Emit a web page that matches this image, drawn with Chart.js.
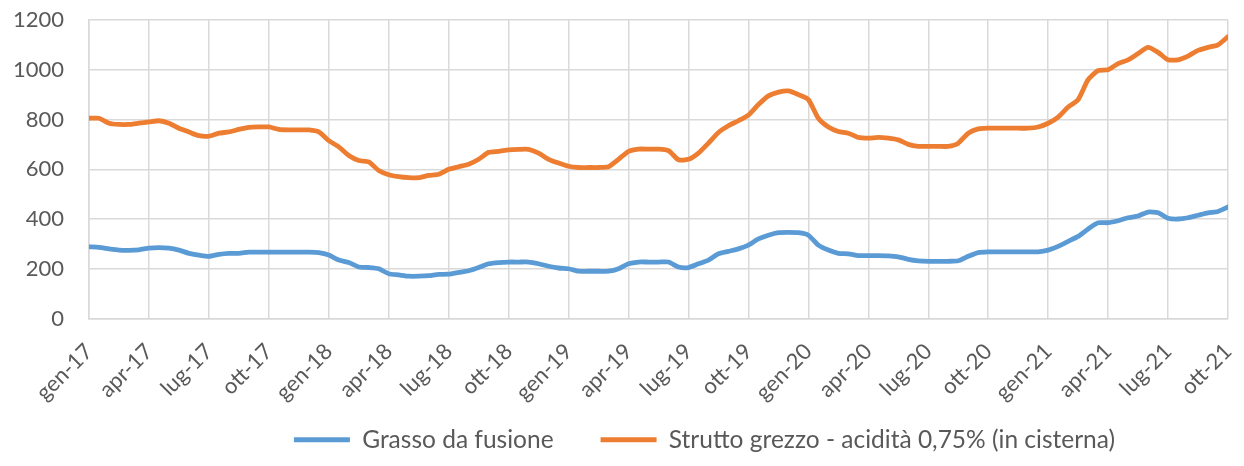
<!DOCTYPE html>
<html>
<head>
<meta charset="utf-8">
<script src="https://cdn.jsdelivr.net/npm/chart.js@4/dist/chart.umd.min.js"></script>
<style>
  html, body { margin: 0; padding: 0; background: #fff; }
  #wrap { width: 1244px; height: 466px; position: relative; }
</style>
</head>
<body>
<div id="wrap"><canvas id="prezziChart"></canvas></div>
<script>
// Etichette trimestrali dell'asse x (una ogni 3 mesi)
const tickLabels = ['gen-17', 'apr-17', 'lug-17', 'ott-17', 'gen-18', 'apr-18', 'lug-18', 'ott-18',
  'gen-19', 'apr-19', 'lug-19', 'ott-19', 'gen-20', 'apr-20', 'lug-20', 'ott-20',
  'gen-21', 'apr-21', 'lug-21', 'ott-21'];

// Rilevazioni ogni mezzo mese, da gen-17 (0) a ott-21 (57)
const mesi = [];
for (let i = 0; i <= 114; i++) mesi.push(i / 2);

// Grasso da fusione (€/t)
const grasso = [
  288, 286, 280, 275, 274, 276, 283, 285, 283, 275,
  262, 255, 250, 258, 262, 262, 267, 267, 267, 267,
  267, 267, 267, 265, 255, 235, 225, 207, 205, 200,
  180, 175, 170, 170, 172, 177, 178, 185, 192, 205,
  220, 225, 227, 227, 227, 220, 210, 203, 200, 190,
  190, 190, 190, 200, 220, 227, 227, 227, 227, 207,
  205, 220, 235, 260, 270, 280, 295, 320, 335, 345,
  346, 345, 335, 295, 275, 262, 260, 253, 253, 253,
  252, 248, 238, 232, 230, 230, 230, 232, 250, 265,
  268, 268, 268, 268, 268, 268, 275, 290, 310, 330,
  360, 385, 385, 393, 405, 412, 428, 425, 403, 400,
  405, 415, 425, 430, 448
];

// Strutto grezzo - acidità 0,75% (in cisterna) (€/t)
const strutto = [
  805, 805, 785, 780, 780, 785, 790, 795, 785, 765,
  750, 735, 733, 745, 750, 760, 768, 770, 770, 760,
  758, 758, 758, 750, 715, 690, 655, 635, 630, 595,
  578, 570, 566, 566, 575, 580, 600, 610, 620, 640,
  668, 672, 678, 680, 680, 665, 640, 625, 612, 607,
  607, 607, 610, 640, 672, 681, 681, 681, 675, 638,
  640, 665, 705, 748, 775, 795, 818, 860, 895, 910,
  915, 900, 880, 805, 770, 752, 745, 728, 725, 728,
  725, 718, 700, 692, 692, 692, 692, 705, 745, 762,
  765, 765, 765, 765, 765, 770, 785, 810, 850, 880,
  960, 997, 1000, 1025, 1040, 1065, 1090, 1070, 1040, 1040,
  1055, 1078, 1090, 1100, 1133
];

const colori = {
  grasso: '#5b9bd5',
  strutto: '#ed7d31',
  griglia: '#d9d9d9',
  testo: '#595959'
};

const fontAssi = { family: "'Lato', 'Open Sans', sans-serif", size: 22 };
const fontLegenda = { family: "'Lato', 'Open Sans', sans-serif", size: 24.5 };

function punti(valori) {
  return valori.map((v, i) => ({ x: mesi[i], y: v }));
}

// Sposta la legenda (a destra e in alto), come nell'originale
const spostaLegenda = {
  id: 'spostaLegenda',
  afterLayout(chart) {
    const legenda = chart.legend;
    if (!legenda) return;
    legenda.left += 46;
    legenda.right += 46;
    legenda.top -= 26;
    legenda.bottom -= 26;
  }
};

const ctx = document.getElementById('prezziChart');
new Chart(ctx, {
  type: 'line',
  data: {
    datasets: [
      {
        label: 'Grasso da fusione',
        data: punti(grasso),
        borderColor: colori.grasso,
        backgroundColor: colori.grasso,
        borderWidth: 4.8,
        pointRadius: 0,
        tension: 0.2,
        borderCapStyle: 'round',
        borderJoinStyle: 'round'
      },
      {
        label: 'Strutto grezzo - acidità 0,75% (in cisterna)',
        data: punti(strutto),
        borderColor: colori.strutto,
        backgroundColor: colori.strutto,
        borderWidth: 4.8,
        pointRadius: 0,
        tension: 0.2,
        borderCapStyle: 'round',
        borderJoinStyle: 'round'
      }
    ]
  },
  plugins: [spostaLegenda],
  options: {
    responsive: true,
    maintainAspectRatio: false,
    animation: false,
    layout: {
      padding: { left: 13, right: 16, top: 20, bottom: -22 }
    },
    plugins: {
      legend: {
        position: 'bottom',
        fullSize: false,
        labels: {
          usePointStyle: true,
          pointStyle: 'line',
          pointStyleWidth: 56,
          padding: 47,
          color: colori.testo,
          font: fontLegenda
        }
      },
      tooltip: { enabled: false }
    },
    scales: {
      x: {
        type: 'linear',
        min: 0,
        max: 57,
        afterFit: function (scale) {
          scale.height = 88;
          scale.paddingLeft = 0;
          scale.paddingRight = 0;
        },
        grid: {
          color: colori.griglia,
          lineWidth: 1.5,
          drawTicks: false
        },
        border: { color: colori.griglia, width: 1.5 },
        ticks: {
          stepSize: 3,
          autoSkip: false,
          minRotation: 45,
          maxRotation: 45,
          padding: 20,
          color: colori.testo,
          font: fontAssi,
          callback: function (value) {
            return tickLabels[value / 3];
          }
        }
      },
      y: {
        min: 0,
        max: 1200,
        afterFit: function (scale) {
          scale.width = 76;
          scale.paddingTop = 0;
          scale.paddingBottom = 0;
        },
        grid: {
          color: colori.griglia,
          lineWidth: 1.5,
          drawTicks: false
        },
        border: { color: colori.griglia, width: 1.5 },
        ticks: {
          stepSize: 200,
          padding: 25,
          color: colori.testo,
          font: fontAssi,
          callback: function (value) {
            return String(value);
          }
        }
      }
    }
  }
});
</script>
</body>
</html>
